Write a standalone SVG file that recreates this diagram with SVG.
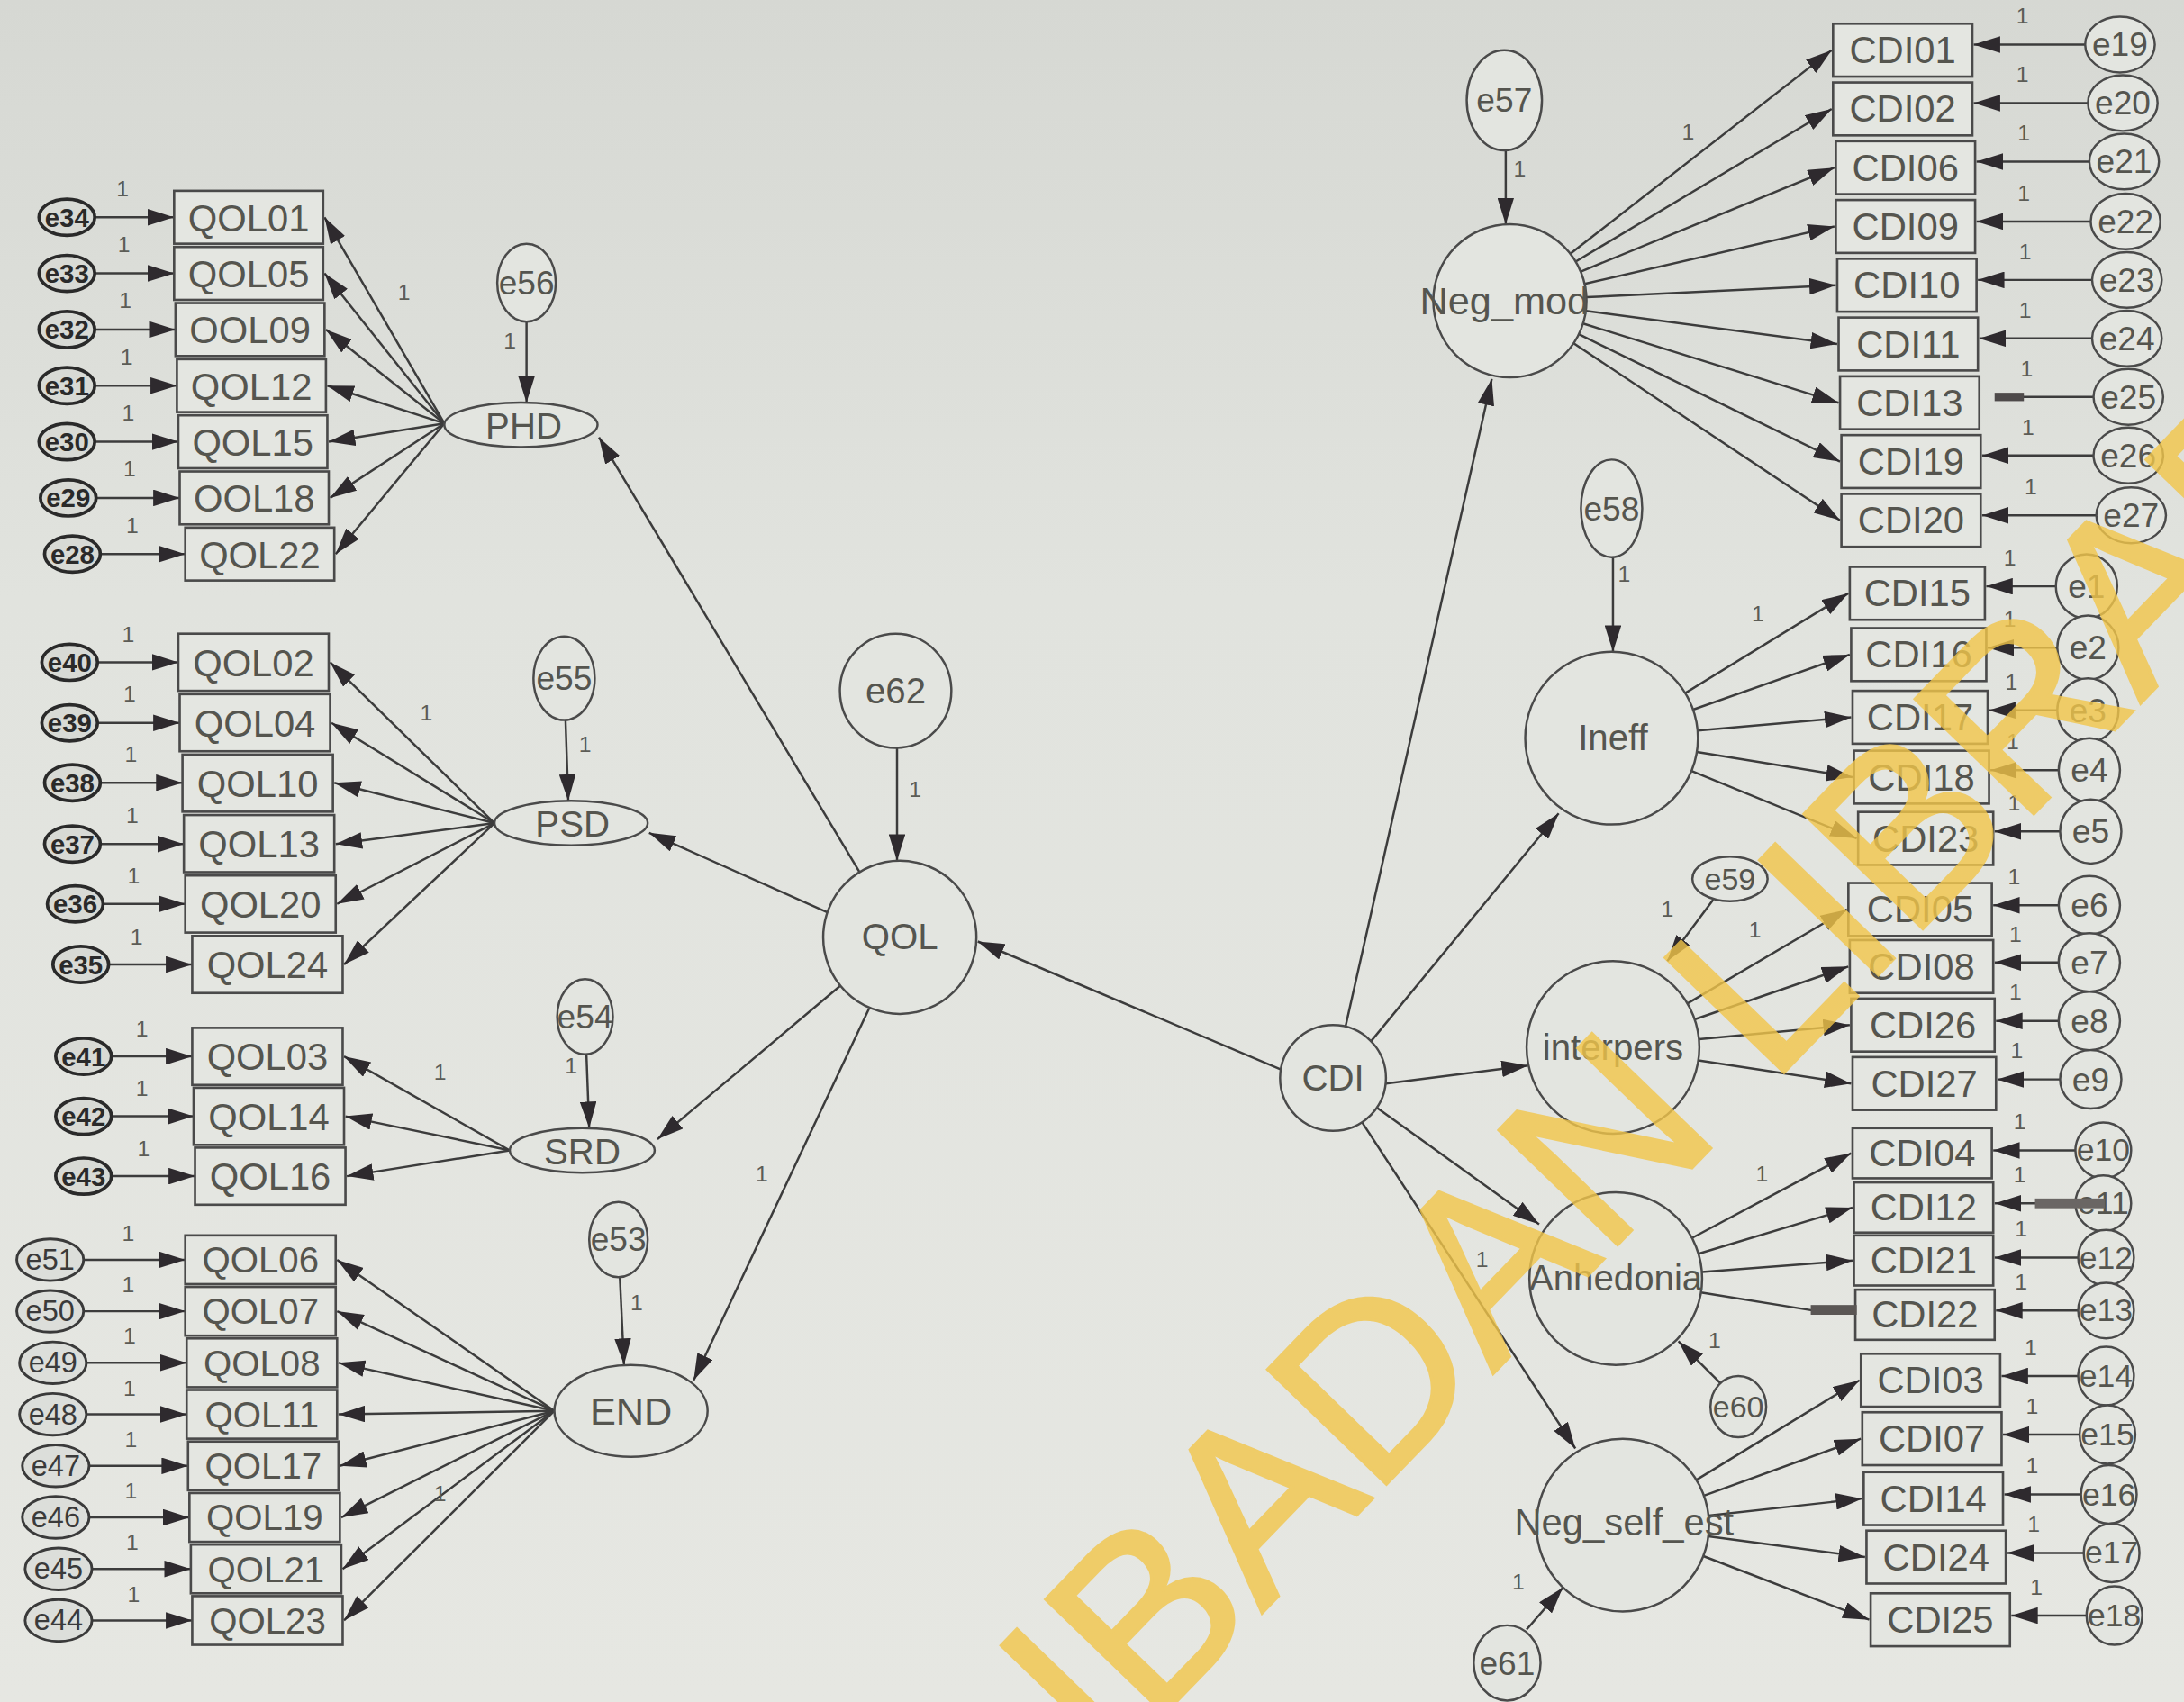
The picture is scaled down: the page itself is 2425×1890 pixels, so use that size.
<svg xmlns="http://www.w3.org/2000/svg" width="2425" height="1890" viewBox="0 0 2425 1890">
<defs>
<linearGradient id="bg" x1="0" y1="0" x2="0" y2="1"><stop offset="0" stop-color="#d6d8d3"/><stop offset="0.35" stop-color="#e1e3de"/><stop offset="1" stop-color="#e6e7e2"/></linearGradient>
<marker id="ah" viewBox="0 0 19 12" refX="19" refY="6" markerWidth="19" markerHeight="12" orient="auto" markerUnits="userSpaceOnUse"><path d="M0,0 L19,6 L0,12 Z" fill="#2e2a2e"/></marker>
<style>
.c{fill:none;stroke:#3c3c3c;stroke-width:1.6;marker-end:url(#ah)}
.cn{fill:none;stroke:#3c3c3c;stroke-width:1.6}
.bx{fill:#e4e6e1;stroke:#4a4a4a;stroke-width:1.7}
.lv{fill:#e3e5e0;stroke:#4a4a4a;stroke-width:1.6}
.es{fill:#d8dad5;stroke:#2a2a2a;stroke-width:2.4}
.em{fill:#dcdeda;stroke:#3a3a3a;stroke-width:1.9}
.t{font-family:"Liberation Sans",Arial,sans-serif;text-anchor:middle;dominant-baseline:central;fill:#55554f}
.bt{font-size:27px}
.lt{font-size:26px}
.st{font-size:19px;font-weight:bold;fill:#2a2a2a}
.mt{font-size:21px;fill:#3a3a3a}
.rt{font-size:24px}
.one{font-family:"Liberation Sans",Arial,sans-serif;font-size:16px;fill:#5c5c56;text-anchor:middle}
.bar{fill:#4e4a4a}
.wm{font-family:"Liberation Sans",Arial,sans-serif;font-size:172px;fill:#f2c64a;stroke:#f2c64a;stroke-width:2.5;opacity:0.8}
</style>
</defs>
<rect width="2425" height="1890" fill="url(#bg)"/>
<g transform="scale(1.5466)">
<g id="connectors">
<path class="c" d="M68,156 H125"/><path class="c" d="M68,196.3 H125"/><path class="c" d="M68,236.6 H126"/><path class="c" d="M68,276.9 H127"/><path class="c" d="M68,317.2 H128"/><path class="c" d="M69,357.5 H129"/><path class="c" d="M72,397.8 H133"/>
<path class="c" d="M319,304 L233,156"/><path class="c" d="M319,304 L233,196.3"/><path class="c" d="M319,304 L234,236.6"/><path class="c" d="M319,304 L235,276.9"/><path class="c" d="M319,304 L236,317.2"/><path class="c" d="M319,304 L237,357.5"/><path class="c" d="M319,304 L241,397.8"/>
<path class="c" d="M70,475.5 H128"/><path class="c" d="M70,519 H129"/><path class="c" d="M72,562 H131"/><path class="c" d="M72,606 H132"/><path class="c" d="M74,649 H133"/><path class="c" d="M78,692.5 H138"/>
<path class="c" d="M355,591 L237,475.5"/><path class="c" d="M355,591 L238,519"/><path class="c" d="M355,591 L240,562"/><path class="c" d="M355,591 L241,606"/><path class="c" d="M355,591 L242,649"/><path class="c" d="M355,591 L247,692.5"/>
<path class="c" d="M80,758.5 H138"/><path class="c" d="M80,801.5 H139"/><path class="c" d="M80,844.5 H140"/>
<path class="c" d="M366,826 L247,758.5"/><path class="c" d="M366,826 L248,801.5"/><path class="c" d="M366,826 L249,844.5"/>
<path class="c" d="M60,904.5 H133"/><path class="c" d="M60,941.5 H133"/><path class="c" d="M62,978.5 H134"/><path class="c" d="M62,1015.5 H134"/><path class="c" d="M64,1052.5 H135"/><path class="c" d="M64,1089.5 H136"/><path class="c" d="M66,1126.5 H137"/><path class="c" d="M66,1163.5 H138"/>
<path class="c" d="M398,1013 L242,904.5"/><path class="c" d="M398,1013 L242,941.5"/><path class="c" d="M398,1013 L243,978.5"/><path class="c" d="M398,1013 L243,1015.5"/><path class="c" d="M398,1013 L244,1052.5"/><path class="c" d="M398,1013 L245,1089.5"/><path class="c" d="M398,1013 L246,1126.5"/><path class="c" d="M398,1013 L247,1163.5"/>
<path class="c" d="M378,231 V289"/><path class="c" d="M406,517 L408,575"/><path class="c" d="M421,757 L423,810"/><path class="c" d="M445,917 L448,980"/><path class="c" d="M644,537 V618"/>
<path class="c" d="M1081,108 V161"/><path class="c" d="M1158,400 V468"/><path class="c" d="M1230,646 L1197,690"/><path class="c" d="M1238,996 L1205,963"/><path class="c" d="M1096,1170 L1122,1140"/>
<path class="c" d="M617,626 L430,314"/><path class="c" d="M594,655 L466,598"/><path class="c" d="M603,708 L472,818"/><path class="c" d="M624,724 L498,991"/>
<path class="c" d="M920,768 L702,676"/><path class="c" d="M966,737 L1071,272"/><path class="c" d="M984,748 L1119,584"/><path class="c" d="M995,778 L1097,765"/><path class="c" d="M988,795 L1105,879"/><path class="c" d="M978,806 L1131,1040"/>
<path class="c" d="M1127.4,182.2 L1315,36"/><path class="c" d="M1131.2,187.8 L1315,78.2"/><path class="c" d="M1134.9,195 L1317,120.4"/><path class="c" d="M1137.6,203.8 L1317,162.6"/><path class="c" d="M1138.9,213.4 L1318,204.8"/><path class="c" d="M1138.6,223.2 L1319,247"/><path class="c" d="M1136.5,232.3 L1320,289.2"/><path class="c" d="M1133.5,240 L1321,331.4"/><path class="c" d="M1129.8,246.5 L1321,373.6"/>
<path class="c" d="M1497,32 H1417"/><path class="c" d="M1499,74 H1417"/><path class="c" d="M1500,116 H1419"/><path class="c" d="M1501,159 H1419"/><path class="c" d="M1502,201 H1420"/><path class="c" d="M1502,243 H1421"/><path class="cn" d="M1503,285 H1452"/><path class="c" d="M1503,327 H1423"/><path class="c" d="M1505,370 H1423"/>
<path class="c" d="M1209.9,497.6 L1327,426"/><path class="c" d="M1215.5,509.5 L1328,470"/><path class="c" d="M1218.8,524.6 L1329,515"/><path class="c" d="M1218.2,539.9 L1330,558"/><path class="c" d="M1214.4,553.5 L1333,602"/>
<path class="c" d="M1476,421 H1426"/><path class="c" d="M1477,465 H1427"/><path class="c" d="M1477,510 H1428"/><path class="c" d="M1478,553 H1429"/><path class="c" d="M1479,597 H1432"/>
<path class="c" d="M1211.4,720.5 L1326,653"/><path class="c" d="M1216.6,731.9 L1327,694"/><path class="c" d="M1219.7,746.2 L1328,736"/><path class="c" d="M1219.3,761.3 L1329,778"/>
<path class="c" d="M1478,650 H1431"/><path class="c" d="M1478,691 H1432"/><path class="c" d="M1478,733 H1433"/><path class="c" d="M1479,775 H1434"/>
<path class="c" d="M1214.7,888.9 L1329,828"/><path class="c" d="M1219.4,900.2 L1330,867"/><path class="c" d="M1221.8,913.3 L1330,905"/><path class="cn" d="M1221.2,928 L1302,941"/>
<path class="c" d="M1490,826 H1431"/><path class="c" d="M1490,864 H1432"/><path class="c" d="M1492,903 H1432"/><path class="c" d="M1492,941 H1433"/>
<path class="c" d="M1217.9,1062.6 L1335,991"/><path class="c" d="M1223.3,1073.9 L1336,1033"/><path class="c" d="M1226.6,1088.2 L1337,1076"/><path class="c" d="M1226.5,1103.1 L1339,1118"/><path class="c" d="M1222.9,1117.3 L1342,1163"/>
<path class="c" d="M1492,988 H1437"/><path class="c" d="M1493,1030 H1438"/><path class="c" d="M1494,1073 H1439"/><path class="c" d="M1496,1115 H1441"/><path class="c" d="M1498,1160 H1444"/>
</g>
<g id="QOL01"><rect class="bx" x="125" y="137" width="107" height="38"/><text class="t bt" x="178.5" y="156.5">QOL01</text></g>
<g id="QOL05"><rect class="bx" x="125" y="177.3" width="107" height="38"/><text class="t bt" x="178.5" y="196.8">QOL05</text></g>
<g id="QOL09"><rect class="bx" x="126" y="217.6" width="107" height="38"/><text class="t bt" x="179.5" y="237.1">OOL09</text></g>
<g id="QOL12"><rect class="bx" x="127" y="257.9" width="107" height="38"/><text class="t bt" x="180.5" y="277.4">QOL12</text></g>
<g id="QOL15"><rect class="bx" x="128" y="298.2" width="107" height="38"/><text class="t bt" x="181.5" y="317.7">QOL15</text></g>
<g id="QOL18"><rect class="bx" x="129" y="338.5" width="107" height="38"/><text class="t bt" x="182.5" y="358">OOL18</text></g>
<g id="QOL22"><rect class="bx" x="133" y="378.8" width="107" height="38"/><text class="t bt" x="186.5" y="398.3">QOL22</text></g>
<g id="QOL02"><rect class="bx" x="128" y="455" width="108" height="41"/><text class="t bt" x="182" y="476">QOL02</text></g>
<g id="QOL04"><rect class="bx" x="129" y="498.4" width="108" height="41"/><text class="t bt" x="183" y="519.4">QOL04</text></g>
<g id="QOL10"><rect class="bx" x="131" y="541.8" width="108" height="41"/><text class="t bt" x="185" y="562.8">QOL10</text></g>
<g id="QOL13"><rect class="bx" x="132" y="585.2" width="108" height="41"/><text class="t bt" x="186" y="606.2">QOL13</text></g>
<g id="QOL20"><rect class="bx" x="133" y="628.6" width="108" height="41"/><text class="t bt" x="187" y="649.6">QOL20</text></g>
<g id="QOL24"><rect class="bx" x="138" y="672" width="108" height="41"/><text class="t bt" x="192" y="693">QOL24</text></g>
<g id="QOL03"><rect class="bx" x="138" y="738" width="108" height="41"/><text class="t bt" x="192" y="759">QOL03</text></g>
<g id="QOL14"><rect class="bx" x="139" y="781" width="108" height="41"/><text class="t bt" x="193" y="802">QOL14</text></g>
<g id="QOL16"><rect class="bx" x="140" y="824" width="108" height="41"/><text class="t bt" x="194" y="845">QOL16</text></g>
<g id="QOL06"><rect class="bx" x="133" y="887" width="108" height="35"/><text class="t lt" x="187" y="905">QOL06</text></g>
<g id="QOL07"><rect class="bx" x="133" y="924" width="108" height="35"/><text class="t lt" x="187" y="942">QOL07</text></g>
<g id="QOL08"><rect class="bx" x="134" y="961" width="108" height="35"/><text class="t lt" x="188" y="979">QOL08</text></g>
<g id="QOL11"><rect class="bx" x="134" y="998" width="108" height="35"/><text class="t lt" x="188" y="1016">QOL11</text></g>
<g id="QOL17"><rect class="bx" x="135" y="1035" width="108" height="35"/><text class="t lt" x="189" y="1053">QOL17</text></g>
<g id="QOL19"><rect class="bx" x="136" y="1072" width="108" height="35"/><text class="t lt" x="190" y="1090">QOL19</text></g>
<g id="QOL21"><rect class="bx" x="137" y="1109" width="108" height="35"/><text class="t lt" x="191" y="1127">QOL21</text></g>
<g id="QOL23"><rect class="bx" x="138" y="1146" width="108" height="35"/><text class="t lt" x="192" y="1164">QOL23</text></g>
<g id="e34"><ellipse class="es" cx="48" cy="156" rx="20" ry="13"/><text class="t st" x="48" y="156">e34</text></g>
<g id="e33"><ellipse class="es" cx="48" cy="196.3" rx="20" ry="13"/><text class="t st" x="48" y="196.3">e33</text></g>
<g id="e32"><ellipse class="es" cx="48" cy="236.6" rx="20" ry="13"/><text class="t st" x="48" y="236.6">e32</text></g>
<g id="e31"><ellipse class="es" cx="48" cy="276.9" rx="20" ry="13"/><text class="t st" x="48" y="276.9">e31</text></g>
<g id="e30"><ellipse class="es" cx="48" cy="317.2" rx="20" ry="13"/><text class="t st" x="48" y="317.2">e30</text></g>
<g id="e29"><ellipse class="es" cx="49" cy="357.5" rx="20" ry="13"/><text class="t st" x="49" y="357.5">e29</text></g>
<g id="e28"><ellipse class="es" cx="52" cy="397.8" rx="20" ry="13"/><text class="t st" x="52" y="397.8">e28</text></g>
<g id="e40"><ellipse class="es" cx="50" cy="475.5" rx="20" ry="13"/><text class="t st" x="50" y="475.5">e40</text></g>
<g id="e39"><ellipse class="es" cx="50" cy="519" rx="20" ry="13"/><text class="t st" x="50" y="519">e39</text></g>
<g id="e38"><ellipse class="es" cx="52" cy="562" rx="20" ry="13"/><text class="t st" x="52" y="562">e38</text></g>
<g id="e37"><ellipse class="es" cx="52" cy="606" rx="20" ry="13"/><text class="t st" x="52" y="606">e37</text></g>
<g id="e36"><ellipse class="es" cx="54" cy="649" rx="20" ry="13"/><text class="t st" x="54" y="649">e36</text></g>
<g id="e35"><ellipse class="es" cx="58" cy="692.5" rx="20" ry="13"/><text class="t st" x="58" y="692.5">e35</text></g>
<g id="e41"><ellipse class="es" cx="60" cy="758.5" rx="20" ry="13"/><text class="t st" x="60" y="758.5">e41</text></g>
<g id="e42"><ellipse class="es" cx="60" cy="801.5" rx="20" ry="13"/><text class="t st" x="60" y="801.5">e42</text></g>
<g id="e43"><ellipse class="es" cx="60" cy="844.5" rx="20" ry="13"/><text class="t st" x="60" y="844.5">e43</text></g>
<g id="e51"><ellipse class="em" cx="36" cy="904.5" rx="24" ry="15"/><text class="t mt" x="36" y="904.5">e51</text></g>
<g id="e50"><ellipse class="em" cx="36" cy="941.5" rx="24" ry="15"/><text class="t mt" x="36" y="941.5">e50</text></g>
<g id="e49"><ellipse class="em" cx="38" cy="978.5" rx="24" ry="15"/><text class="t mt" x="38" y="978.5">e49</text></g>
<g id="e48"><ellipse class="em" cx="38" cy="1015.5" rx="24" ry="15"/><text class="t mt" x="38" y="1015.5">e48</text></g>
<g id="e47"><ellipse class="em" cx="40" cy="1052.5" rx="24" ry="15"/><text class="t mt" x="40" y="1052.5">e47</text></g>
<g id="e46"><ellipse class="em" cx="40" cy="1089.5" rx="24" ry="15"/><text class="t mt" x="40" y="1089.5">e46</text></g>
<g id="e45"><ellipse class="em" cx="42" cy="1126.5" rx="24" ry="15"/><text class="t mt" x="42" y="1126.5">e45</text></g>
<g id="e44"><ellipse class="em" cx="42" cy="1163.5" rx="24" ry="15"/><text class="t mt" x="42" y="1163.5">e44</text></g>
<g id="PHD"><ellipse class="lv" cx="374" cy="305" rx="55" ry="16"/><text class="t lt" x="376" y="306">PHD</text></g>
<g id="PSD"><ellipse class="lv" cx="410" cy="591" rx="55" ry="16"/><text class="t lt" x="411" y="592">PSD</text></g>
<g id="SRD"><ellipse class="lv" cx="418" cy="826" rx="52" ry="16"/><text class="t lt" x="418" y="827">SRD</text></g>
<g id="END"><ellipse class="lv" cx="453" cy="1013" rx="55" ry="33"/><text class="t" style="font-size:28px" x="453" y="1013">END</text></g>
<g id="e56"><ellipse class="lv" cx="378" cy="203" rx="21" ry="28"/><text class="t rt" x="378" y="203">e56</text></g>
<g id="e55"><ellipse class="lv" cx="405" cy="487" rx="22" ry="30"/><text class="t rt" x="405" y="487">e55</text></g>
<g id="e54"><ellipse class="lv" cx="420" cy="730" rx="20" ry="27"/><text class="t rt" x="420" y="730">e54</text></g>
<g id="e53"><ellipse class="lv" cx="444" cy="890" rx="21" ry="27"/><text class="t rt" x="444" y="890">e53</text></g>
<g id="e62"><ellipse class="lv" cx="643" cy="496" rx="40" ry="41"/><text class="t lt" x="643" y="496">e62</text></g>
<g id="QOL"><circle class="lv" cx="646" cy="673" r="55"/><text class="t lt" x="646" y="673">QOL</text></g>
<g id="CDI"><circle class="lv" cx="957" cy="774" r="38"/><text class="t lt" x="957" y="774">CDI</text></g>
<g id="e57"><ellipse class="lv" cx="1080" cy="72" rx="27" ry="36"/><text class="t rt" x="1080" y="72">e57</text></g>
<g id="Neg_mod"><circle class="lv" cx="1084" cy="216" r="55"/><text class="t" style="font-size:28px" x="1080" y="216">Neg_mod</text></g>
<g id="e58"><ellipse class="lv" cx="1157" cy="365" rx="22" ry="35"/><text class="t rt" x="1157" y="365">e58</text></g>
<g id="Ineff"><circle class="lv" cx="1157" cy="530" r="62"/><text class="t lt" x="1158" y="530">Ineff</text></g>
<g id="e59"><ellipse class="lv" cx="1242" cy="631" rx="27" ry="16"/><text class="t" style="font-size:22px" x="1242" y="631">e59</text></g>
<g id="interpers"><circle class="lv" cx="1158" cy="752" r="62"/><text class="t lt" x="1158" y="752">interpers</text></g>
<g id="Anhedonia"><circle class="lv" cx="1160" cy="918" r="62"/><text class="t lt" x="1160" y="918">Anhedonia</text></g>
<g id="e60"><ellipse class="lv" cx="1248" cy="1010" rx="20" ry="22"/><text class="t" style="font-size:22px" x="1248" y="1010">e60</text></g>
<g id="Neg_self_est"><circle class="lv" cx="1165" cy="1095" r="62"/><text class="t" style="font-size:27px" x="1166" y="1093">Neg_self_est</text></g>
<g id="e61"><ellipse class="lv" cx="1082" cy="1194" rx="24" ry="27"/><text class="t rt" x="1082" y="1194">e61</text></g>
<g id="CDI01"><rect class="bx" x="1316" y="17" width="100" height="38"/><text class="t bt" x="1366" y="36">CDI01</text></g>
<g id="CDI02"><rect class="bx" x="1316" y="59.2" width="100" height="38"/><text class="t bt" x="1366" y="78.2">CDI02</text></g>
<g id="CDI06"><rect class="bx" x="1318" y="101.4" width="100" height="38"/><text class="t bt" x="1368" y="120.4">CDI06</text></g>
<g id="CDI09"><rect class="bx" x="1318" y="143.6" width="100" height="38"/><text class="t bt" x="1368" y="162.6">CDI09</text></g>
<g id="CDI10"><rect class="bx" x="1319" y="185.8" width="100" height="38"/><text class="t bt" x="1369" y="204.8">CDI10</text></g>
<g id="CDI11"><rect class="bx" x="1320" y="228" width="100" height="38"/><text class="t bt" x="1370" y="247">CDI11</text></g>
<g id="CDI13"><rect class="bx" x="1321" y="270.2" width="100" height="38"/><text class="t bt" x="1371" y="289.2">CDI13</text></g>
<g id="CDI19"><rect class="bx" x="1322" y="312.4" width="100" height="38"/><text class="t bt" x="1372" y="331.4">CDI19</text></g>
<g id="CDI20"><rect class="bx" x="1322" y="354.6" width="100" height="38"/><text class="t bt" x="1372" y="373.6">CDI20</text></g>
<g id="CDI15"><rect class="bx" x="1328" y="407" width="97" height="38"/><text class="t bt" x="1376.5" y="426">CDI15</text></g>
<g id="CDI16"><rect class="bx" x="1329" y="451" width="97" height="38"/><text class="t bt" x="1377.5" y="470">CDI16</text></g>
<g id="CDI17"><rect class="bx" x="1330" y="496" width="97" height="38"/><text class="t bt" x="1378.5" y="515">CDI17</text></g>
<g id="CDI18"><rect class="bx" x="1331" y="539" width="97" height="38"/><text class="t bt" x="1379.5" y="558">CDI18</text></g>
<g id="CDI23"><rect class="bx" x="1334" y="583" width="97" height="38"/><text class="t bt" x="1382.5" y="602">CDI23</text></g>
<g id="CDI05"><rect class="bx" x="1327" y="634" width="103" height="38"/><text class="t bt" x="1378.5" y="653">CDI05</text></g>
<g id="CDI08"><rect class="bx" x="1328" y="675" width="103" height="38"/><text class="t bt" x="1379.5" y="694">CDI08</text></g>
<g id="CDI26"><rect class="bx" x="1329" y="717" width="103" height="38"/><text class="t bt" x="1380.5" y="736">CDI26</text></g>
<g id="CDI27"><rect class="bx" x="1330" y="759" width="103" height="38"/><text class="t bt" x="1381.5" y="778">CDI27</text></g>
<g id="CDI04"><rect class="bx" x="1330" y="810" width="100" height="36"/><text class="t bt" x="1380" y="828">CDI04</text></g>
<g id="CDI12"><rect class="bx" x="1331" y="849" width="100" height="36"/><text class="t bt" x="1381" y="867">CDI12</text></g>
<g id="CDI21"><rect class="bx" x="1331" y="887" width="100" height="36"/><text class="t bt" x="1381" y="905">CDI21</text></g>
<g id="CDI22"><rect class="bx" x="1332" y="926" width="100" height="36"/><text class="t bt" x="1382" y="944">CDI22</text></g>
<g id="CDI03"><rect class="bx" x="1336" y="972" width="100" height="38"/><text class="t bt" x="1386" y="991">CDI03</text></g>
<g id="CDI07"><rect class="bx" x="1337" y="1014" width="100" height="38"/><text class="t bt" x="1387" y="1033">CDI07</text></g>
<g id="CDI14"><rect class="bx" x="1338" y="1057" width="100" height="38"/><text class="t bt" x="1388" y="1076">CDI14</text></g>
<g id="CDI24"><rect class="bx" x="1340" y="1099" width="100" height="38"/><text class="t bt" x="1390" y="1118">CDI24</text></g>
<g id="CDI25"><rect class="bx" x="1343" y="1144" width="100" height="38"/><text class="t bt" x="1393" y="1163">CDI25</text></g>
<g id="e19"><ellipse class="lv" cx="1522" cy="32" rx="25" ry="20"/><text class="t rt" x="1522" y="32">e19</text></g>
<g id="e20"><ellipse class="lv" cx="1524" cy="74" rx="25" ry="20"/><text class="t rt" x="1524" y="74">e20</text></g>
<g id="e21"><ellipse class="lv" cx="1525" cy="116" rx="25" ry="20"/><text class="t rt" x="1525" y="116">e21</text></g>
<g id="e22"><ellipse class="lv" cx="1526" cy="159" rx="25" ry="20"/><text class="t rt" x="1526" y="159">e22</text></g>
<g id="e23"><ellipse class="lv" cx="1527" cy="201" rx="25" ry="20"/><text class="t rt" x="1527" y="201">e23</text></g>
<g id="e24"><ellipse class="lv" cx="1527" cy="243" rx="25" ry="20"/><text class="t rt" x="1527" y="243">e24</text></g>
<g id="e25"><ellipse class="lv" cx="1528" cy="285" rx="25" ry="20"/><text class="t rt" x="1528" y="285">e25</text></g>
<g id="e26"><ellipse class="lv" cx="1528" cy="327" rx="25" ry="20"/><text class="t rt" x="1528" y="327">e26</text></g>
<g id="e27"><ellipse class="lv" cx="1530" cy="370" rx="25" ry="20"/><text class="t rt" x="1530" y="370">e27</text></g>
<g id="e1"><ellipse class="lv" cx="1498" cy="421" rx="22" ry="23"/><text class="t rt" x="1498" y="421">e1</text></g>
<g id="e2"><ellipse class="lv" cx="1499" cy="465" rx="22" ry="23"/><text class="t rt" x="1499" y="465">e2</text></g>
<g id="e3"><ellipse class="lv" cx="1499" cy="510" rx="22" ry="23"/><text class="t rt" x="1499" y="510">e3</text></g>
<g id="e4"><ellipse class="lv" cx="1500" cy="553" rx="22" ry="23"/><text class="t rt" x="1500" y="553">e4</text></g>
<g id="e5"><ellipse class="lv" cx="1501" cy="597" rx="22" ry="23"/><text class="t rt" x="1501" y="597">e5</text></g>
<g id="e6"><ellipse class="lv" cx="1500" cy="650" rx="22" ry="21"/><text class="t rt" x="1500" y="650">e6</text></g>
<g id="e7"><ellipse class="lv" cx="1500" cy="691" rx="22" ry="21"/><text class="t rt" x="1500" y="691">e7</text></g>
<g id="e8"><ellipse class="lv" cx="1500" cy="733" rx="22" ry="21"/><text class="t rt" x="1500" y="733">e8</text></g>
<g id="e9"><ellipse class="lv" cx="1501" cy="775" rx="22" ry="21"/><text class="t rt" x="1501" y="775">e9</text></g>
<g id="e10"><ellipse class="lv" cx="1510" cy="826" rx="20" ry="20"/><text class="t" style="font-size:23px" x="1510" y="826">e10</text></g>
<g id="e11"><ellipse class="lv" cx="1510" cy="864" rx="20" ry="20"/><text class="t" style="font-size:23px" x="1510" y="864">e11</text></g>
<g id="e12"><ellipse class="lv" cx="1512" cy="903" rx="20" ry="20"/><text class="t" style="font-size:23px" x="1512" y="903">e12</text></g>
<g id="e13"><ellipse class="lv" cx="1512" cy="941" rx="20" ry="20"/><text class="t" style="font-size:23px" x="1512" y="941">e13</text></g>
<g id="e14"><ellipse class="lv" cx="1512" cy="988" rx="20" ry="21"/><text class="t" style="font-size:23px" x="1512" y="988">e14</text></g>
<g id="e15"><ellipse class="lv" cx="1513" cy="1030" rx="20" ry="21"/><text class="t" style="font-size:23px" x="1513" y="1030">e15</text></g>
<g id="e16"><ellipse class="lv" cx="1514" cy="1073" rx="20" ry="21"/><text class="t" style="font-size:23px" x="1514" y="1073">e16</text></g>
<g id="e17"><ellipse class="lv" cx="1516" cy="1115" rx="20" ry="21"/><text class="t" style="font-size:23px" x="1516" y="1115">e17</text></g>
<g id="e18"><ellipse class="lv" cx="1518" cy="1160" rx="20" ry="21"/><text class="t" style="font-size:23px" x="1518" y="1160">e18</text></g>
<g id="weights">
<text class="one" x="88" y="141">1</text><text class="one" x="89" y="181">1</text><text class="one" x="90" y="221">1</text><text class="one" x="91" y="262">1</text><text class="one" x="92" y="302">1</text><text class="one" x="93" y="342">1</text><text class="one" x="95" y="383">1</text>
<text class="one" x="92" y="461">1</text><text class="one" x="93" y="504">1</text><text class="one" x="94" y="547">1</text><text class="one" x="95" y="591">1</text><text class="one" x="96" y="634">1</text><text class="one" x="98" y="678">1</text>
<text class="one" x="102" y="744">1</text><text class="one" x="102" y="787">1</text><text class="one" x="103" y="830">1</text>
<text class="one" x="92" y="891">1</text><text class="one" x="92" y="928">1</text><text class="one" x="93" y="965">1</text><text class="one" x="93" y="1002">1</text><text class="one" x="94" y="1039">1</text><text class="one" x="94" y="1076">1</text><text class="one" x="95" y="1113">1</text><text class="one" x="96" y="1150">1</text>
<text class="one" x="290" y="215">1</text><text class="one" x="306" y="517">1</text><text class="one" x="316" y="775">1</text><text class="one" x="316" y="1078">1</text>
<text class="one" x="366" y="250">1</text><text class="one" x="420" y="540">1</text><text class="one" x="410" y="771">1</text><text class="one" x="457" y="941">1</text><text class="one" x="657" y="572">1</text><text class="one" x="547" y="848">1</text>
<text class="one" x="1091" y="127">1</text><text class="one" x="1166" y="418">1</text><text class="one" x="1197" y="658">1</text><text class="one" x="1231" y="968">1</text><text class="one" x="1090" y="1141">1</text><text class="one" x="1064" y="910">1</text>
<text class="one" x="1212" y="100">1</text><text class="one" x="1262" y="446">1</text><text class="one" x="1260" y="673">1</text><text class="one" x="1265" y="848">1</text>
<text class="one" x="1452" y="17">1</text><text class="one" x="1452" y="59">1</text><text class="one" x="1453" y="101">1</text><text class="one" x="1453" y="144">1</text><text class="one" x="1454" y="186">1</text><text class="one" x="1454" y="228">1</text><text class="one" x="1455" y="270">1</text><text class="one" x="1456" y="312">1</text><text class="one" x="1458" y="355">1</text>
<text class="one" x="1443" y="406">1</text><text class="one" x="1443" y="450">1</text><text class="one" x="1444" y="495">1</text><text class="one" x="1445" y="538">1</text><text class="one" x="1446" y="582">1</text>
<text class="one" x="1446" y="635">1</text><text class="one" x="1447" y="676">1</text><text class="one" x="1447" y="718">1</text><text class="one" x="1448" y="760">1</text>
<text class="one" x="1450" y="811">1</text><text class="one" x="1450" y="849">1</text><text class="one" x="1451" y="888">1</text><text class="one" x="1451" y="926">1</text>
<text class="one" x="1458" y="973">1</text><text class="one" x="1459" y="1015">1</text><text class="one" x="1459" y="1058">1</text><text class="one" x="1460" y="1100">1</text><text class="one" x="1462" y="1145">1</text>
</g>
<rect class="bar" x="1432" y="282" width="21" height="6"/>
<rect class="bar" x="1461" y="860.5" width="50" height="7" style="fill:#6a6664"/>
<rect class="bar" x="1300" y="937" width="33" height="7" style="fill:#5a5654"/>
<text class="wm" transform="translate(793,1275) rotate(-46)" x="0" y="0">IBADAN LIBRARY</text>
</g>
</svg>
